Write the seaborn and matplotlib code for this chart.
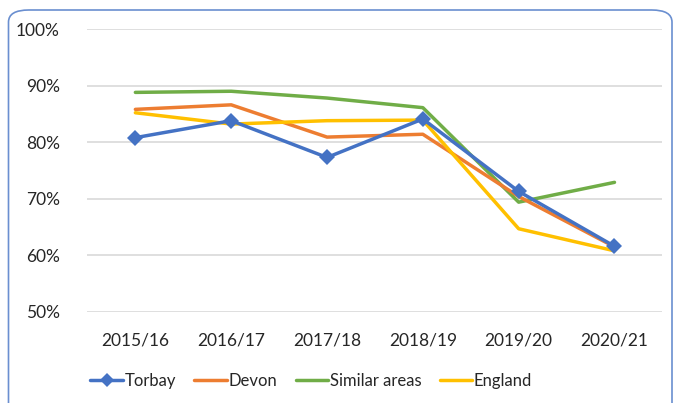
import matplotlib
matplotlib.use("Agg")
import matplotlib.pyplot as plt
import seaborn as sns
import pandas as pd
from matplotlib.patches import FancyBboxPatch
from matplotlib.lines import Line2D
from matplotlib.ticker import PercentFormatter

years = ["2015/16", "2016/17", "2017/18", "2018/19", "2019/20", "2020/21"]
torbay = [80.8, 83.8, 77.3, 84.1, 71.3, 61.6]
devon = [85.8, 86.6, 80.9, 81.4, 70.4, 61.5]
similar = [88.8, 89.0, 87.8, 86.1, 69.4, 72.9]
england = [85.2, 83.2, 83.8, 83.9, 64.7, 60.8]

series = {"Torbay": torbay, "Devon": devon, "Similar areas": similar, "England": england}
colors = {"Torbay": "#4472C4", "Devon": "#ED7D31", "Similar areas": "#70AD47", "England": "#FFC000"}

rows = []
for name, vals in series.items():
    for i, v in enumerate(vals):
        rows.append({"pos": i, "value": v, "series": name})
df = pd.DataFrame(rows)

sns.set_theme(style="white")
plt.rcParams["font.family"] = ["Lato", "DejaVu Sans"]

fig = plt.figure(figsize=(6.78, 4.03), dpi=100)
ax = fig.add_axes([0.129, 0.226, 0.848, 0.702])

# rounded border
border = FancyBboxPatch((8.5 / 678, -0.2), 663.5 / 678, 1.2 - 10 / 403,
                        boxstyle="round,pad=0,rounding_size=0.03",
                        transform=fig.transFigure, fill=False,
                        edgecolor="#6A8FD0", linewidth=1.2, zorder=0)
fig.patches.append(border)

for name in ["Similar areas", "Devon", "England", "Torbay"]:
    sub = df[df["series"] == name]
    sns.lineplot(data=sub, x="pos", y="value", ax=ax, color=colors[name],
                 linewidth=2.5, sort=False,
                 marker="D" if name == "Torbay" else None,
                 markersize=8, markeredgewidth=0, legend=False,
                 zorder=3)

ax.set_xlim(-0.5, 5.5)
ax.set_ylim(50, 100)
ax.set_yticks([50, 60, 70, 80, 90, 100])
ax.yaxis.set_major_formatter(PercentFormatter(decimals=0))
ax.set_xticks(range(len(years)))
ax.set_xticklabels(years)
ax.set_xlabel("")
ax.set_ylabel("")
ax.grid(axis="y", color="#D9D9D9", linewidth=1.2)
ax.set_axisbelow(True)
for s in ax.spines.values():
    s.set_visible(False)
ax.tick_params(axis="both", length=0, labelsize=12.5, colors="#262626")
ax.tick_params(axis="x", pad=15)
ax.tick_params(axis="y", pad=20)

handles = [Line2D([0], [0], color=colors[n], linewidth=2.5,
                  marker="D" if n == "Torbay" else None, markersize=7,
                  markeredgewidth=0) for n in series]
fig.legend(handles, list(series.keys()), loc="center", bbox_to_anchor=(0.459, 0.055),
           ncol=4, frameon=False, fontsize=12, handlelength=1.95,
           columnspacing=1.1, handletextpad=0.1, labelcolor="#262626")

fig.savefig("out.png", dpi=100)
